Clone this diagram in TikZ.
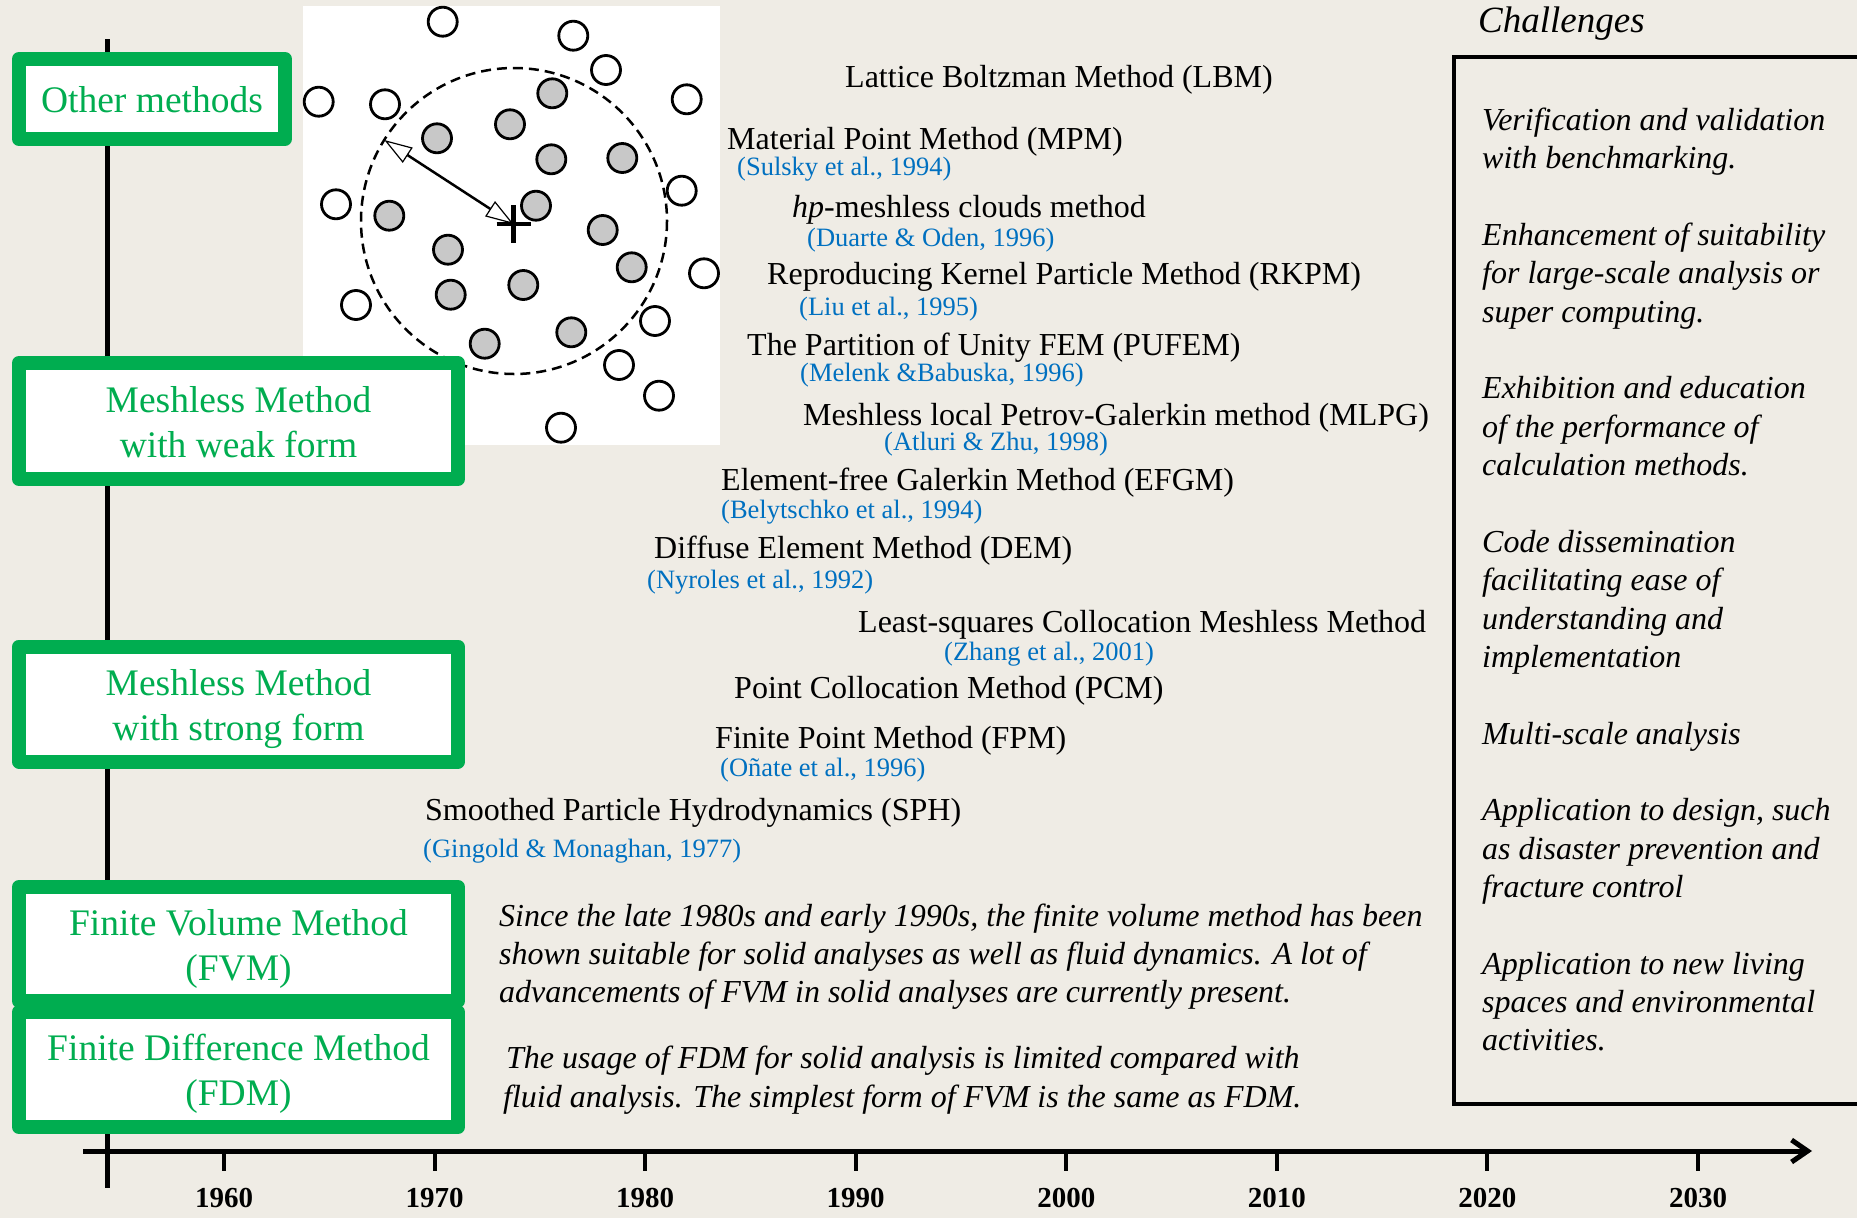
\documentclass[tikz,border=0pt]{standalone}
\usepackage{fontspec}
\setmainfont{Liberation Serif}
\usetikzlibrary{arrows.meta}
\definecolor{bg}{RGB}{239,236,229}
\definecolor{grn}{RGB}{0,173,80}
\definecolor{citeblue}{RGB}{0,112,192}
\definecolor{pgray}{RGB}{200,200,200}
\begin{document}
\begin{tikzpicture}[x=1pt,y=-1pt,
  lbl/.style={anchor=west, inner sep=0pt},
  meth/.style={lbl, text height=22pt, text depth=2pt, font=\fontsize{32}{38}\selectfont},
  cit/.style={lbl, text height=18pt, text depth=1.6pt, text=citeblue, font=\fontsize{26.5}{32}\selectfont},
  para/.style={lbl, text height=22pt, text depth=2pt, font=\fontsize{32}{38}\selectfont\itshape},
  chal/.style={lbl, text height=21.8pt, text depth=2pt, font=\fontsize{32}{38}\selectfont\itshape},
  gbox/.style={draw=grn, fill=white, line width=14pt, line join=round, inner sep=0pt},
  boxtext/.style={inner sep=0pt, align=center, text=grn, font=\fontsize{37.5}{45}\selectfont},
  yearlbl/.style={inner sep=0pt, font=\fontsize{29}{34}\selectfont\bfseries},
  opencirc/.style={draw=black, fill=white, line width=2.8pt},
  graycirc/.style={draw=black, fill=pgray, line width=2.8pt},
  axisline/.style={line width=5pt},
]
\path[use as bounding box, fill=bg] (0,0) rectangle (1857,1218);
\clip (0,0) rectangle (1857,1218);

% vertical axis
\coordinate (vtop) at (107,39);
\coordinate (vbot) at (107,1188);
\draw[axisline] (vtop) -- (vbot);

% particle picture
\fill[white] (303,6) rectangle (720,445);
\coordinate (ctr) at (514,221);
\draw[line width=2.5pt, dash pattern=on 10pt off 6pt] (ctr) circle[radius=153];
\foreach \x/\y in {442.7/21.7, 573.3/35.7, 606/70, 686.7/99.3, 318.7/101.7, 385/104.3,
  681.7/190.7, 336/204.3, 704/273.3, 356/305, 655/321, 619/365, 659/395.7, 561/427.7}
  \path[opencirc] (\x,\y) circle[radius=14.5];
\foreach \x/\y in {552.3/93.3, 510/124.3, 437/138.3, 551.3/159.3, 622.3/158, 536/205.7,
  389.3/215.7, 602.7/230, 448/249.7, 631.7/267.3, 523.3/285, 450.7/294.7, 571.3/332.3, 484.7/343.7}
  \path[graycirc] (\x,\y) circle[radius=14.5];
\coordinate (plusc) at (513.5,224);
\draw[line width=4.5pt] (496.5,224) -- (530.5,224);
\draw[line width=4.5pt] (513.5,205) -- (513.5,243);
\coordinate (rim) at (384.3,140);
\draw[line width=2.5pt,
  {Triangle[length=28pt,width=18pt,fill=white,line width=1.2pt]}-{Triangle[length=28pt,width=18pt,fill=white,line width=1.2pt]}]
  (rim) -- (plusc);

% green boxes
\node[gbox, minimum width=266, minimum height=80] (other) at (152,99) {};
\node[boxtext] (othert) at (152,99.5) {Other methods};
\node[gbox, minimum width=439, minimum height=116] (weak) at (238.5,421) {};
\node[boxtext] (weakt) at (238.5,422) {Meshless Method\\with weak form};
\node[gbox, minimum width=439, minimum height=115] (strong) at (238.5,704) {};
\node[boxtext] (strongt) at (238.5,709.5) {Meshless Method\\with strong form};
\node[gbox, minimum width=439, minimum height=114] (fvm) at (238.5,944) {};
\node[boxtext] (fvmt) at (238.5,949) {Finite Volume Method\\(FVM)};
\node[gbox, minimum width=439, minimum height=115] (fdm) at (238.5,1069.5) {};
\node[boxtext] (fdmt) at (238.5,1074) {Finite Difference Method\\(FDM)};

% methods
\node[meth] (lbm) at (845,77) {Lattice Boltzman Method (LBM)};
\node[meth] (mpm) at (727,139) {Material Point Method (MPM)};
\node[cit] (mpmc) at (737,167) {(Sulsky et al., 1994)};
\node[meth] (hp) at (792,207) {\textit{hp}-meshless clouds method};
\node[cit] (hpc) at (807,238) {(Duarte \& Oden, 1996)};
\node[meth] (rkpm) at (767,274) {Reproducing Kernel Particle Method (RKPM)};
\node[cit] (rkpmc) at (799,307) {(Liu et al., 1995)};
\node[meth] (pufem) at (747,345) {The Partition of Unity FEM (PUFEM)};
\node[cit] (pufemc) at (800,373) {(Melenk \&Babuska, 1996)};
\node[meth] (mlpg) at (803,415) {Meshless local Petrov-Galerkin method (MLPG)};
\node[cit] (mlpgc) at (884,442) {(Atluri \& Zhu, 1998)};
\node[meth] (efgm) at (721,480) {Element-free Galerkin Method (EFGM)};
\node[cit] (efgmc) at (721,510) {(Belytschko et al., 1994)};
\node[meth] (dem) at (654,548) {Diffuse Element Method (DEM)};
\node[cit] (demc) at (647,580) {(Nyroles et al., 1992)};
\node[meth] (lscm) at (858,622) {Least-squares Collocation Meshless Method};
\node[cit] (lscmc) at (944,652) {(Zhang et al., 2001)};
\node[meth] (pcm) at (734,688) {Point Collocation Method (PCM)};
\node[meth] (fpm) at (715,738) {Finite Point Method (FPM)};
\node[cit] (fpmc) at (720,768) {(Oñate et al., 1996)};
\node[meth] (sph) at (425,810) {Smoothed Particle Hydrodynamics (SPH)};
\node[cit] (sphc) at (423,849) {(Gingold \& Monaghan, 1977)};

% paragraphs
\node[para] (fv1) at (499,916) {Since the late 1980s and early 1990s, the finite volume method has been};
\node[para] (fv2) at (499,954) {shown suitable for solid analyses as well as fluid dynamics. A lot of};
\node[para] (fv3) at (499,992) {advancements of FVM in solid analyses are currently present.};
\node[para] (fd1) at (506,1058) {The usage of FDM for solid analysis is limited compared with};
\node[para] (fd2) at (503,1097) {fluid analysis. The simplest form of FVM is the same as FDM.};

% challenges
\node[lbl, text height=25pt, text depth=2pt, font=\fontsize{37}{42}\selectfont\itshape] (chtitle) at (1478,21) {Challenges};
\draw[line width=4pt] (1857,57) -- (1454,57) -- (1454,1104) -- (1857,1104);
\node[chal] (c1) at (1482,120.5) {Verification and validation};
\node[chal] (c2) at (1482,158.9) {with benchmarking.};
\node[chal] (c3) at (1482,235.6) {Enhancement of suitability};
\node[chal] (c4) at (1482,273.9) {for large-scale analysis or};
\node[chal] (c5) at (1482,312.3) {super computing.};
\node[chal] (c6) at (1482,389.0) {Exhibition and education};
\node[chal] (c7) at (1482,427.3) {of the performance of};
\node[chal] (c8) at (1482,465.7) {calculation methods.};
\node[chal] (c9) at (1482,542.4) {Code dissemination};
\node[chal] (c10) at (1482,580.7) {facilitating ease of};
\node[chal] (c11) at (1482,619.1) {understanding and};
\node[chal] (c12) at (1482,657.4) {implementation};
\node[chal] (c13) at (1482,734.1) {Multi-scale analysis};
\node[chal] (c14) at (1482,810.8) {Application to design, such};
\node[chal] (c15) at (1482,849.1) {as disaster prevention and};
\node[chal] (c16) at (1482,887.5) {fracture control};
\node[chal] (c17) at (1482,964.2) {Application to new living};
\node[chal] (c18) at (1482,1002.5) {spaces and environmental};
\node[chal] (c19) at (1482,1040.9) {activities.};

% horizontal axis
\coordinate (hstart) at (83,1151);
\coordinate (hend) at (1812,1151);
\draw[axisline, -{Straight Barb[length=16pt,width=22pt]}] (hstart) -- (hend);
\foreach \yr [count=\k from 0] in {1960,1970,1980,1990,2000,2010,2020,2030} {
  \draw[line width=4pt] (224+210.57*\k,1151) -- (224+210.57*\k,1171);
  \node[yearlbl] (y\yr) at (224+210.57*\k,1198) {\yr};
}
\end{tikzpicture}
\end{document}
